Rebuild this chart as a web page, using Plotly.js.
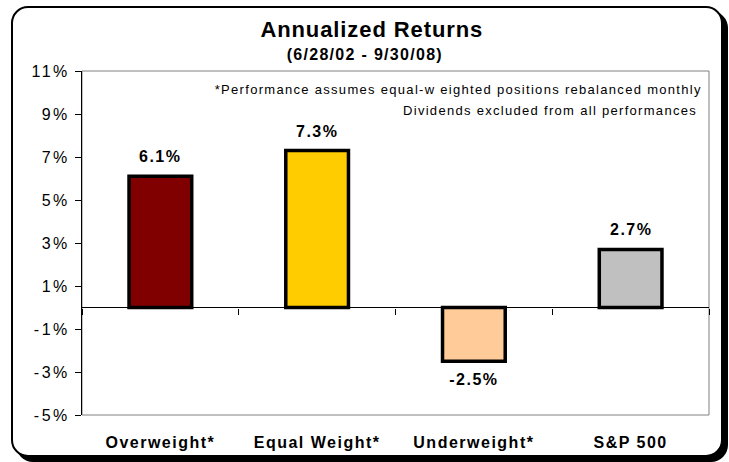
<!DOCTYPE html>
<html>
<head>
<meta charset="utf-8">
<script src="https://cdn.plot.ly/plotly-3.0.1.min.js"></script>
<style>
  html, body { margin: 0; padding: 0; background: #ffffff; }
  #frame {
    position: absolute; left: 11px; top: 6px;
    width: 708px; height: 447px;
    border: 2px solid #000; border-radius: 17px;
    box-shadow: 5px 5px 0 #000; background: #fff; z-index: 0;
  }
  #chart { position: absolute; left: 0; top: 0; width: 729px; height: 462px; z-index: 1; }
  #chart .gtitle { letter-spacing: 0.9px; }
  #chart .xtick text { letter-spacing: 1.5px; }
  #chart .ytick text { letter-spacing: 2.5px; }
  #chart .annotation[data-index="0"] text { letter-spacing: 1.3px; }
  #chart .annotation[data-index="1"] text,
  #chart .annotation[data-index="2"] text { letter-spacing: 1.3px; }
  #chart .annotation[data-index="3"] text,
  #chart .annotation[data-index="4"] text,
  #chart .annotation[data-index="5"] text,
  #chart .annotation[data-index="6"] text { letter-spacing: 1.5px; }
</style>
</head>
<body>
<div id="frame"></div>
<div id="chart"></div>
<script>
const categories = ['Overweight*', 'Equal Weight*', 'Underweight*', 'S&P 500'];
const returns = [6.1, 7.3, -2.5, 2.7];
const valueLabels = ['6.1%', '7.3%', '-2.5%', '2.7%'];
const barColors = ['#800000', '#FFCC00', '#FFCC99', '#C0C0C0'];
const yTickVals = [-5, -3, -1, 1, 3, 5, 7, 9, 11];
const yTickText = ['-5%', '-3%', '-1%', '1%', '3%', '5%', '7%', '9%', '11%'];
const yRange = [-5, 11];
const titleText = 'Annualized Returns';
const subtitleText = '(6/28/02 - 9/30/08)';
const notes = [
  '*Performance assumes equal-w eighted positions rebalanced monthly',
  'Dividends excluded from all performances'
];

const FONT = 'Liberation Sans, Arial, sans-serif';

const bars = {
  type: 'bar',
  x: categories,
  y: returns,
  marker: { color: barColors, line: { color: '#000000', width: 3.5 } },
  hoverinfo: 'skip',
  showlegend: false
};

const boundaryTicks = {
  type: 'scatter',
  mode: 'markers',
  x: categories,
  y: returns,
  xaxis: 'x2',
  marker: { opacity: 0 },
  hoverinfo: 'skip',
  showlegend: false
};

const annotations = [
  {
    text: '<b>' + subtitleText + '</b>',
    xref: 'paper', yref: 'paper', x: 0.4506, y: 1,
    xanchor: 'center', yanchor: 'middle', yshift: 17,
    showarrow: false, font: { family: FONT, size: 16, color: '#000' }
  },
  {
    text: notes[0],
    xref: 'paper', yref: 'paper', x: 0.5997, y: 1,
    xanchor: 'center', yanchor: 'middle', yshift: -18,
    showarrow: false, font: { family: FONT, size: 13, color: '#000' }
  },
  {
    text: notes[1],
    xref: 'paper', yref: 'paper', x: 0.7475, y: 1,
    xanchor: 'center', yanchor: 'middle', yshift: -39,
    showarrow: false, font: { family: FONT, size: 13, color: '#000' }
  }
];
categories.forEach(function (c, i) {
  const pos = returns[i] >= 0;
  annotations.push({
    text: '<b>' + valueLabels[i] + '</b>',
    x: c, y: returns[i], xref: 'x', yref: 'y',
    xanchor: 'center', yanchor: pos ? 'bottom' : 'top',
    yshift: pos ? 9 : -8,
    showarrow: false,
    font: { family: FONT, size: 16, color: '#000' }
  });
});

const layout = {
  width: 729, height: 462,
  margin: { l: 82, r: 20, t: 71, b: 47, pad: 0 },
  paper_bgcolor: 'rgba(0,0,0,0)',
  plot_bgcolor: 'rgba(0,0,0,0)',
  font: { family: FONT, color: '#000' },
  showlegend: false,
  bargap: 0.6,
  title: {
    text: '<b>' + titleText + '</b>',
    font: { family: FONT, size: 22, color: '#000' },
    x: 0.51, xanchor: 'center', y: 0.937, yanchor: 'middle'
  },
  xaxis: {
    type: 'category', categoryarray: categories, range: [-0.5, 3.5],
    ticks: '', showline: false, showgrid: false, zeroline: false,
    tickfont: { family: FONT, size: 16, color: '#000', weight: 'bold' },
    ticklabelstandoff: 16,
    fixedrange: true
  },
  xaxis2: {
    type: 'category', categoryarray: categories, range: [-0.5, 3.5],
    overlaying: 'x', anchor: 'free',
    position: (0 - yRange[0]) / (yRange[1] - yRange[0]),
    side: 'bottom',
    tickson: 'boundaries', ticks: 'outside', ticklen: 6, tickcolor: '#000', tickwidth: 1,
    showticklabels: false, showline: false, showgrid: false, zeroline: false,
    fixedrange: true
  },
  yaxis: {
    range: yRange,
    tickvals: yTickVals, ticktext: yTickText,
    ticks: 'outside', ticklen: 6, tickcolor: '#000', tickwidth: 1,
    showline: true, linecolor: '#000', linewidth: 1,
    showgrid: false,
    zeroline: true, zerolinecolor: '#000', zerolinewidth: 1,
    tickfont: { family: FONT, size: 16, color: '#000' },
    ticklabelstandoff: 2,
    fixedrange: true
  },
  shapes: [
    {
      type: 'rect', xref: 'paper', yref: 'paper', x0: 0, x1: 1, y0: 0, y1: 1,
      line: { color: '#808080', width: 1 }, layer: 'below'
    }
  ],
  annotations: annotations
};

Plotly.newPlot('chart', [bars, boundaryTicks], layout, { displayModeBar: false, staticPlot: true });
</script>
</body>
</html>
